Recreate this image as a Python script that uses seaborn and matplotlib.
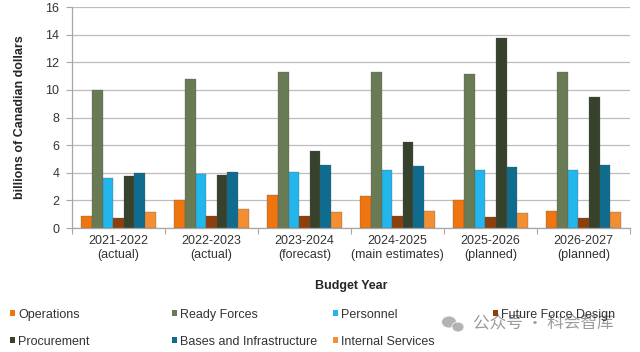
import pandas as pd
import matplotlib
matplotlib.use("Agg")
import matplotlib.pyplot as plt
import seaborn as sns
from matplotlib.patches import Patch, Ellipse

years = ['2021-2022\n(actual)', '2022-2023\n(actual)', '2023-2024\n(forecast)',
         '2024-2025\n(main estimates)', '2025-2026\n(planned)', '2026-2027\n(planned)']
categories = ['Operations', 'Ready Forces', 'Personnel', 'Future Force Design',
              'Procurement', 'Bases and Infrastructure', 'Internal Services']

operations = [0.9, 2.03, 2.39, 2.29, 2.03, 1.23]
ready_forces = [9.97, 10.79, 11.27, 11.27, 11.12, 11.27]
personnel = [3.64, 3.91, 4.03, 4.17, 4.17, 4.24]
future_force_design = [0.72, 0.84, 0.89, 0.87, 0.82, 0.75]
procurement = [3.74, 3.86, 5.55, 6.23, 13.73, 9.48]
bases_infrastructure = [3.98, 4.08, 4.58, 4.51, 4.39, 4.56]
internal_services = [1.13, 1.40, 1.18, 1.23, 1.09, 1.18]

colors = ['#EE750F', '#687B55', '#22B6EC', '#8E400C', '#37422D', '#106C8E', '#F38E33']

series = [operations, ready_forces, personnel, future_force_design,
          procurement, bases_infrastructure, internal_services]
rows = []
for cat, vals in zip(categories, series):
    for yr, v in zip(years, vals):
        rows.append({'year': yr, 'category': cat, 'value': v})
df = pd.DataFrame(rows)

sns.set_theme(style="white")
plt.rcParams['font.family'] = ['Liberation Sans', 'DejaVu Sans']

fig = plt.figure(figsize=(6.4, 3.52), dpi=100)
ax = fig.add_axes([0.1125, 0.352, 0.872, 0.628])

sns.barplot(data=df, x='year', y='value', hue='category', order=years,
            hue_order=categories, palette=colors, width=0.8, gap=0.0,
            saturation=1, edgecolor='#555555', linewidth=0.2, ax=ax, legend=False)

ax.set_ylim(0, 16)
ax.set_xlim(-0.5, 5.5)
ax.set_yticks(range(0, 17, 2))
ax.yaxis.grid(True, color='#BDBDBD', linewidth=0.9)
ax.set_axisbelow(True)
for s in ['top', 'right']:
    ax.spines[s].set_visible(False)
for s in ['left', 'bottom']:
    ax.spines[s].set_color('#A6A6A6')
    ax.spines[s].set_linewidth(0.9)

ax.tick_params(axis='y', labelsize=9, colors='#333333', length=4, width=0.8,
               direction='out', left=True, pad=5, color='#A6A6A6')
ax.tick_params(axis='x', labelsize=9, colors='#333333', length=0, pad=5)
ax.set_xticks([i + 0.5 for i in range(-1, 6)], minor=True)
ax.tick_params(axis='x', which='minor', length=4, color='#A6A6A6', width=0.8, bottom=True)
for lab in ax.get_yticklabels():
    lab.set_color('#333333')

ax.set_ylabel('billions of Canadian dollars', fontsize=9, fontweight='bold', labelpad=14)
ax.set_xlabel('Budget Year', fontsize=9, fontweight='bold', labelpad=14)

# legend laid out in four columns, filled row-wise
columns = [[0, 4], [1, 5], [2, 6], [3]]
col_x = [10, 172, 333, 493]
for cx, idxs in zip(col_x, columns):
    handles = [Patch(facecolor=colors[i], edgecolor='none', label=categories[i]) for i in idxs]
    fig.legend(handles=handles, loc='upper left', bbox_to_anchor=(cx / 640, 0.123),
               frameon=False, fontsize=9, handlelength=0.4, handleheight=0.4,
               handletextpad=0.25, labelspacing=1.2, borderaxespad=0, borderpad=0,
               labelcolor='#333333')

# watermark
for ex, ey, w, h in [(449, 322, 15, 12), (458, 327, 12, 10)]:
    fig.add_artist(Ellipse((ex / 640, 1 - ey / 352), w / 640, h / 352,
                           transform=fig.transFigure, facecolor='#9A9A9A',
                           edgecolor='white', linewidth=0.8, alpha=0.75))
fig.text(473 / 640, 1 - 323 / 352, '公众号 · 科会智库', fontsize=12, color='#8A8A8A', alpha=0.85,
         family=['Noto Sans CJK SC', 'DejaVu Sans'], va='center', ha='left')

fig.savefig('out.png', dpi=100, facecolor='white')
